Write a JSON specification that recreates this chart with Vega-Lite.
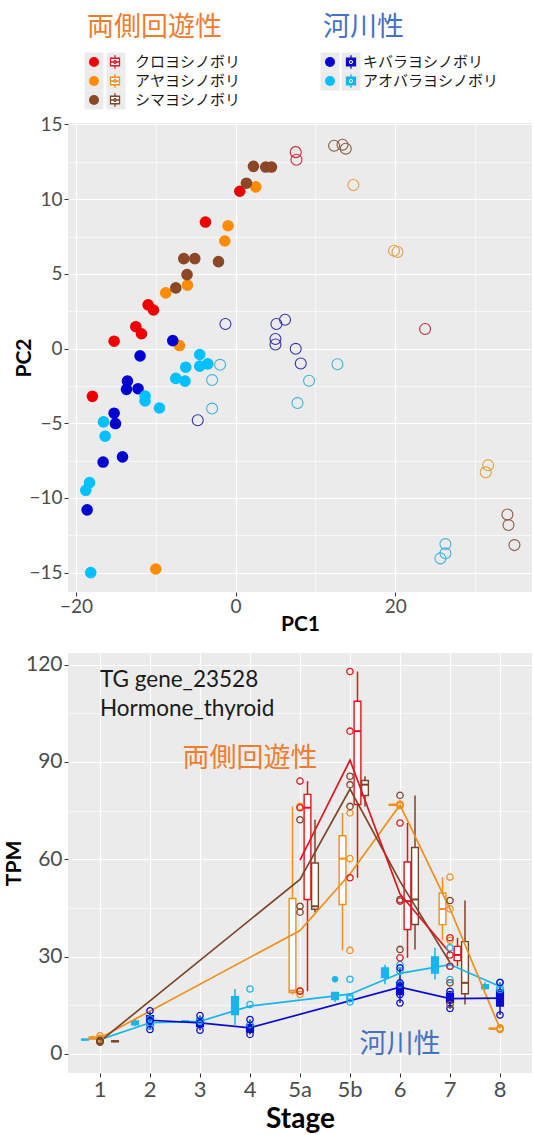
{
  "$schema": "https://vega.github.io/schema/vega-lite/v6.json",
  "padding": {"left": 3, "top": 0, "right": 0, "bottom": 0},
  "background": "white",
  "spacing": 61,
  "bounds": "flush",
  "config": {
    "font": "Lato",
    "view": {"stroke": null},
    "axis": {"labelFont": "Lato", "titleFont": "Lato", "labelColor": "#4d4d4d", "tickColor": "#333333", "tickWidth": 1, "domain": false, "gridColor": "white", "titleColor": "black", "titleFontWeight": "bold"}
  },
  "datasets": {
    "legend": [
      {"species": "クロヨシノボリ", "habit": "両側回遊性", "rank": 1},
      {"species": "アヤヨシノボリ", "habit": "両側回遊性", "rank": 2},
      {"species": "シマヨシノボリ", "habit": "両側回遊性", "rank": 3},
      {"species": "キバラヨシノボリ", "habit": "河川性", "rank": 1},
      {"species": "アオバラヨシノボリ", "habit": "河川性", "rank": 2}
    ],
    "titles": [
      {"habit": "両側回遊性", "rank": 1},
      {"habit": "河川性", "rank": 1}
    ],
    "pca": [
      {"species": "クロヨシノボリ", "type": "filled", "PC1": 0.53, "PC2": 10.53},
      {"species": "クロヨシノボリ", "type": "filled", "PC1": -3.77, "PC2": 8.47},
      {"species": "クロヨシノボリ", "type": "filled", "PC1": -10.96, "PC2": 2.93},
      {"species": "クロヨシノボリ", "type": "filled", "PC1": -10.29, "PC2": 2.58},
      {"species": "クロヨシノボリ", "type": "filled", "PC1": -12.5, "PC2": 1.46},
      {"species": "クロヨシノボリ", "type": "filled", "PC1": -11.79, "PC2": 0.99},
      {"species": "クロヨシノボリ", "type": "filled", "PC1": -15.22, "PC2": 0.49},
      {"species": "クロヨシノボリ", "type": "filled", "PC1": -17.94, "PC2": -3.2},
      {"species": "クロヨシノボリ", "type": "open", "PC1": 7.54, "PC2": 13.15},
      {"species": "クロヨシノボリ", "type": "open", "PC1": 7.63, "PC2": 12.64},
      {"species": "クロヨシノボリ", "type": "open", "PC1": 23.75, "PC2": 1.31},
      {"species": "アヤヨシノボリ", "type": "filled", "PC1": 2.53, "PC2": 10.82},
      {"species": "アヤヨシノボリ", "type": "filled", "PC1": -0.94, "PC2": 8.22},
      {"species": "アヤヨシノボリ", "type": "filled", "PC1": -1.35, "PC2": 7.2},
      {"species": "アヤヨシノボリ", "type": "filled", "PC1": -6.03, "PC2": 4.24},
      {"species": "アヤヨシノボリ", "type": "filled", "PC1": -8.75, "PC2": 3.73},
      {"species": "アヤヨシノボリ", "type": "filled", "PC1": -7.03, "PC2": 0.2},
      {"species": "アヤヨシノボリ", "type": "filled", "PC1": -10.0, "PC2": -14.76},
      {"species": "アヤヨシノボリ", "type": "open", "PC1": 14.77, "PC2": 10.95},
      {"species": "アヤヨシノボリ", "type": "open", "PC1": 19.86, "PC2": 6.55},
      {"species": "アヤヨシノボリ", "type": "open", "PC1": 20.29, "PC2": 6.46},
      {"species": "アヤヨシノボリ", "type": "open", "PC1": 31.65, "PC2": -7.82},
      {"species": "アヤヨシノボリ", "type": "open", "PC1": 31.35, "PC2": -8.29},
      {"species": "シマヨシノボリ", "type": "filled", "PC1": 2.24, "PC2": 12.2},
      {"species": "シマヨシノボリ", "type": "filled", "PC1": 3.78, "PC2": 12.15},
      {"species": "シマヨシノボリ", "type": "filled", "PC1": 4.5, "PC2": 12.15},
      {"species": "シマヨシノボリ", "type": "filled", "PC1": 1.36, "PC2": 11.07},
      {"species": "シマヨシノボリ", "type": "filled", "PC1": -6.49, "PC2": 6.02},
      {"species": "シマヨシノボリ", "type": "filled", "PC1": -5.11, "PC2": 6.02},
      {"species": "シマヨシノボリ", "type": "filled", "PC1": -2.14, "PC2": 5.82},
      {"species": "シマヨシノボリ", "type": "filled", "PC1": -6.08, "PC2": 4.95},
      {"species": "シマヨシノボリ", "type": "filled", "PC1": -7.49, "PC2": 4.06},
      {"species": "シマヨシノボリ", "type": "open", "PC1": 12.35, "PC2": 13.58},
      {"species": "シマヨシノボリ", "type": "open", "PC1": 13.4, "PC2": 13.65},
      {"species": "シマヨシノボリ", "type": "open", "PC1": 13.81, "PC2": 13.38},
      {"species": "シマヨシノボリ", "type": "open", "PC1": 34.07, "PC2": -11.11},
      {"species": "シマヨシノボリ", "type": "open", "PC1": 34.2, "PC2": -11.82},
      {"species": "シマヨシノボリ", "type": "open", "PC1": 34.95, "PC2": -13.16},
      {"species": "キバラヨシノボリ", "type": "filled", "PC1": -7.87, "PC2": 0.53},
      {"species": "キバラヨシノボリ", "type": "filled", "PC1": -11.97, "PC2": -0.49},
      {"species": "キバラヨシノボリ", "type": "filled", "PC1": -13.55, "PC2": -2.18},
      {"species": "キバラヨシノボリ", "type": "filled", "PC1": -13.67, "PC2": -2.73},
      {"species": "キバラヨシノボリ", "type": "filled", "PC1": -12.22, "PC2": -2.69},
      {"species": "キバラヨシノボリ", "type": "filled", "PC1": -15.22, "PC2": -4.33},
      {"species": "キバラヨシノボリ", "type": "filled", "PC1": -15.05, "PC2": -5.02},
      {"species": "キバラヨシノボリ", "type": "filled", "PC1": -16.6, "PC2": -7.6},
      {"species": "キバラヨシノボリ", "type": "filled", "PC1": -14.17, "PC2": -7.25},
      {"species": "キバラヨシノボリ", "type": "filled", "PC1": -18.6, "PC2": -10.8},
      {"species": "キバラヨシノボリ", "type": "open", "PC1": -1.27, "PC2": 1.64},
      {"species": "キバラヨシノボリ", "type": "open", "PC1": 6.2, "PC2": 1.93},
      {"species": "キバラヨシノボリ", "type": "open", "PC1": 5.12, "PC2": 1.64},
      {"species": "キバラヨシノボリ", "type": "open", "PC1": 5.0, "PC2": 0.64},
      {"species": "キバラヨシノボリ", "type": "open", "PC1": 5.0, "PC2": 0.27},
      {"species": "キバラヨシノボリ", "type": "open", "PC1": 7.54, "PC2": -0.02},
      {"species": "キバラヨシノボリ", "type": "open", "PC1": 8.17, "PC2": -1.0},
      {"species": "キバラヨシノボリ", "type": "open", "PC1": -4.74, "PC2": -4.8},
      {"species": "アオバラヨシノボリ", "type": "filled", "PC1": -4.49, "PC2": -0.4},
      {"species": "アオバラヨシノボリ", "type": "filled", "PC1": -4.49, "PC2": -1.18},
      {"species": "アオバラヨシノボリ", "type": "filled", "PC1": -3.48, "PC2": -1.03},
      {"species": "アオバラヨシノボリ", "type": "filled", "PC1": -6.24, "PC2": -1.25},
      {"species": "アオバラヨシノボリ", "type": "filled", "PC1": -7.49, "PC2": -2.0},
      {"species": "アオバラヨシノボリ", "type": "filled", "PC1": -6.33, "PC2": -2.18},
      {"species": "アオバラヨシノボリ", "type": "filled", "PC1": -11.34, "PC2": -3.18},
      {"species": "アオバラヨシノボリ", "type": "filled", "PC1": -11.34, "PC2": -3.51},
      {"species": "アオバラヨシノボリ", "type": "filled", "PC1": -9.54, "PC2": -3.98},
      {"species": "アオバラヨシノボリ", "type": "filled", "PC1": -16.55, "PC2": -4.91},
      {"species": "アオバラヨシノボリ", "type": "filled", "PC1": -16.35, "PC2": -5.87},
      {"species": "アオバラヨシノボリ", "type": "filled", "PC1": -18.3, "PC2": -8.98},
      {"species": "アオバラヨシノボリ", "type": "filled", "PC1": -18.77, "PC2": -9.49},
      {"species": "アオバラヨシノボリ", "type": "filled", "PC1": -18.15, "PC2": -15.0},
      {"species": "アオバラヨシノボリ", "type": "open", "PC1": -1.94, "PC2": -1.09},
      {"species": "アオバラヨシノボリ", "type": "open", "PC1": -2.94, "PC2": -2.11},
      {"species": "アオバラヨシノボリ", "type": "open", "PC1": -2.94, "PC2": -4.02},
      {"species": "アオバラヨシノボリ", "type": "open", "PC1": 12.77, "PC2": -1.05},
      {"species": "アオバラヨシノボリ", "type": "open", "PC1": 9.21, "PC2": -2.16},
      {"species": "アオバラヨシノボリ", "type": "open", "PC1": 7.76, "PC2": -3.65},
      {"species": "アオバラヨシノボリ", "type": "open", "PC1": 26.3, "PC2": -13.09},
      {"species": "アオバラヨシノボリ", "type": "open", "PC1": 26.3, "PC2": -13.71},
      {"species": "アオバラヨシノボリ", "type": "open", "PC1": 25.67, "PC2": -14.05}
    ],
    "tpm": [
      {"stage": "1", "species": "アオバラヨシノボリ", "TPM": 4.2},
      {"stage": "1", "species": "アオバラヨシノボリ", "TPM": 4.4},
      {"stage": "1", "species": "アオバラヨシノボリ", "TPM": 4.6},
      {"stage": "1", "species": "アヤヨシノボリ", "TPM": 4.3},
      {"stage": "1", "species": "アヤヨシノボリ", "TPM": 4.8},
      {"stage": "1", "species": "アヤヨシノボリ", "TPM": 5.6},
      {"stage": "1", "species": "シマヨシノボリ", "TPM": 3.6},
      {"stage": "1", "species": "シマヨシノボリ", "TPM": 3.9},
      {"stage": "1", "species": "シマヨシノボリ", "TPM": 4.1},
      {"stage": "2", "species": "アオバラヨシノボリ", "TPM": 8.5},
      {"stage": "2", "species": "アオバラヨシノボリ", "TPM": 9.5},
      {"stage": "2", "species": "アオバラヨシノボリ", "TPM": 10.8},
      {"stage": "2", "species": "キバラヨシノボリ", "TPM": 7.5},
      {"stage": "2", "species": "キバラヨシノボリ", "TPM": 10.3},
      {"stage": "2", "species": "キバラヨシノボリ", "TPM": 13.3},
      {"stage": "3", "species": "アオバラヨシノボリ", "TPM": 9.8},
      {"stage": "3", "species": "アオバラヨシノボリ", "TPM": 10.0},
      {"stage": "3", "species": "アオバラヨシノボリ", "TPM": 10.3},
      {"stage": "3", "species": "キバラヨシノボリ", "TPM": 7.3},
      {"stage": "3", "species": "キバラヨシノボリ", "TPM": 9.6},
      {"stage": "3", "species": "キバラヨシノボリ", "TPM": 11.8},
      {"stage": "4", "species": "アオバラヨシノボリ", "TPM": 9.0},
      {"stage": "4", "species": "アオバラヨシノボリ", "TPM": 15.2},
      {"stage": "4", "species": "アオバラヨシノボリ", "TPM": 20.0},
      {"stage": "4", "species": "キバラヨシノボリ", "TPM": 6.0},
      {"stage": "4", "species": "キバラヨシノボリ", "TPM": 7.5},
      {"stage": "4", "species": "キバラヨシノボリ", "TPM": 10.6},
      {"stage": "5a", "species": "アヤヨシノボリ", "TPM": 18.3},
      {"stage": "5a", "species": "アヤヨシノボリ", "TPM": 19.5},
      {"stage": "5a", "species": "アヤヨシノボリ", "TPM": 76.3},
      {"stage": "5a", "species": "クロヨシノボリ", "TPM": 19.3},
      {"stage": "5a", "species": "クロヨシノボリ", "TPM": 75.9},
      {"stage": "5a", "species": "クロヨシノボリ", "TPM": 84.1},
      {"stage": "5a", "species": "シマヨシノボリ", "TPM": 43.7},
      {"stage": "5a", "species": "シマヨシノボリ", "TPM": 45.5},
      {"stage": "5a", "species": "シマヨシノボリ", "TPM": 72.2},
      {"stage": "5b", "species": "アオバラヨシノボリ", "TPM": 16.0},
      {"stage": "5b", "species": "アオバラヨシノボリ", "TPM": 17.0},
      {"stage": "5b", "species": "アオバラヨシノボリ", "TPM": 17.6},
      {"stage": "5b", "species": "アオバラヨシノボリ", "TPM": 23.0},
      {"stage": "5b", "species": "アヤヨシノボリ", "TPM": 31.9},
      {"stage": "5b", "species": "アヤヨシノボリ", "TPM": 60.2},
      {"stage": "5b", "species": "アヤヨシノボリ", "TPM": 74.3},
      {"stage": "5b", "species": "クロヨシノボリ", "TPM": 54.3},
      {"stage": "5b", "species": "クロヨシノボリ", "TPM": 99.5},
      {"stage": "5b", "species": "クロヨシノボリ", "TPM": 117.9},
      {"stage": "5b", "species": "シマヨシノボリ", "TPM": 76.3},
      {"stage": "5b", "species": "シマヨシノボリ", "TPM": 83.0},
      {"stage": "5b", "species": "シマヨシノボリ", "TPM": 85.6},
      {"stage": "6", "species": "アオバラヨシノボリ", "TPM": 21.5},
      {"stage": "6", "species": "アオバラヨシノボリ", "TPM": 25.5},
      {"stage": "6", "species": "アオバラヨシノボリ", "TPM": 27.5},
      {"stage": "6", "species": "アヤヨシノボリ", "TPM": 76.5},
      {"stage": "6", "species": "アヤヨシノボリ", "TPM": 76.8},
      {"stage": "6", "species": "アヤヨシノボリ", "TPM": 77.0},
      {"stage": "6", "species": "キバラヨシノボリ", "TPM": 15.7},
      {"stage": "6", "species": "キバラヨシノボリ", "TPM": 18.3},
      {"stage": "6", "species": "キバラヨシノボリ", "TPM": 20.4},
      {"stage": "6", "species": "キバラヨシノボリ", "TPM": 21.9},
      {"stage": "6", "species": "キバラヨシノボリ", "TPM": 26.5},
      {"stage": "6", "species": "クロヨシノボリ", "TPM": 29.6},
      {"stage": "6", "species": "クロヨシノボリ", "TPM": 47.1},
      {"stage": "6", "species": "クロヨシノボリ", "TPM": 71.2},
      {"stage": "6", "species": "シマヨシノボリ", "TPM": 32.2},
      {"stage": "6", "species": "シマヨシノボリ", "TPM": 47.6},
      {"stage": "6", "species": "シマヨシノボリ", "TPM": 79.7},
      {"stage": "7", "species": "アオバラヨシノボリ", "TPM": 22.9},
      {"stage": "7", "species": "アオバラヨシノボリ", "TPM": 27.0},
      {"stage": "7", "species": "アオバラヨシノボリ", "TPM": 32.7},
      {"stage": "7", "species": "アヤヨシノボリ", "TPM": 35.0},
      {"stage": "7", "species": "アヤヨシノボリ", "TPM": 44.7},
      {"stage": "7", "species": "アヤヨシノボリ", "TPM": 54.5},
      {"stage": "7", "species": "キバラヨシノボリ", "TPM": 14.0},
      {"stage": "7", "species": "キバラヨシノボリ", "TPM": 16.5},
      {"stage": "7", "species": "キバラヨシノボリ", "TPM": 18.3},
      {"stage": "7", "species": "キバラヨシノボリ", "TPM": 19.3},
      {"stage": "7", "species": "クロヨシノボリ", "TPM": 27.0},
      {"stage": "7", "species": "クロヨシノボリ", "TPM": 30.5},
      {"stage": "7", "species": "クロヨシノボリ", "TPM": 35.8},
      {"stage": "7", "species": "シマヨシノボリ", "TPM": 15.2},
      {"stage": "7", "species": "シマヨシノボリ", "TPM": 21.9},
      {"stage": "7", "species": "シマヨシノボリ", "TPM": 47.3},
      {"stage": "8", "species": "アオバラヨシノボリ", "TPM": 19.8},
      {"stage": "8", "species": "アオバラヨシノボリ", "TPM": 20.5},
      {"stage": "8", "species": "アオバラヨシノボリ", "TPM": 22.1},
      {"stage": "8", "species": "アヤヨシノボリ", "TPM": 7.5},
      {"stage": "8", "species": "アヤヨシノボリ", "TPM": 7.8},
      {"stage": "8", "species": "アヤヨシノボリ", "TPM": 8.0},
      {"stage": "8", "species": "キバラヨシノボリ", "TPM": 12.0},
      {"stage": "8", "species": "キバラヨシノボリ", "TPM": 17.5},
      {"stage": "8", "species": "キバラヨシノボリ", "TPM": 22.0}
    ],
    "notes": [
      {"stage": "1", "TPM": 115.4, "label": "TG gene_23528", "kind": "gene"},
      {"stage": "1", "TPM": 106.2, "label": "Hormone_thyroid", "kind": "gene"},
      {"stage": "4", "TPM": 91.0, "label": "両側回遊性", "kind": "amph"},
      {"stage": "6", "TPM": 2.7, "label": "河川性", "kind": "river"}
    ]
  },
  "vconcat": [
    {
      "width": 464,
      "height": 62,
      "layer": [
        {
          "data": {"name": "legend"},
          "mark": {"type": "point", "shape": "square", "filled": true, "color": "#ebebeb", "size": 361, "opacity": 1},
          "encoding": {
            "x": {"field": "habit", "type": "nominal", "scale": {"type": "point", "domain": ["両側回遊性", "河川性"], "range": [26, 262], "padding": 0}, "axis": null},
            "y": {"field": "rank", "type": "quantitative", "scale": {"domain": [1, 3], "range": [62, 100], "nice": false, "zero": false}, "axis": null}
          }
        },
        {
          "data": {"name": "legend"},
          "mark": {"type": "point", "shape": "square", "filled": true, "color": "#ebebeb", "size": 361, "opacity": 1},
          "encoding": {
            "x": {"field": "habit", "type": "nominal", "scale": {"type": "point", "domain": ["両側回遊性", "河川性"], "range": [48, 283], "padding": 0}, "axis": null},
            "y": {"field": "rank", "type": "quantitative", "axis": null}
          }
        },
        {
          "data": {"name": "legend"},
          "mark": {"type": "point", "shape": "circle", "filled": true, "size": 100, "opacity": 1},
          "encoding": {
            "x": {"field": "habit", "type": "nominal", "scale": {"type": "point", "domain": ["両側回遊性", "河川性"], "range": [26, 262], "padding": 0}, "axis": null},
            "y": {"field": "rank", "type": "quantitative", "axis": null},
            "color": {"field": "species", "type": "nominal", "scale": {"domain": ["アオバラヨシノボリ", "アヤヨシノボリ", "キバラヨシノボリ", "クロヨシノボリ", "シマヨシノボリ"], "range": ["#00c0ff", "#ff8c00", "#0000d0", "#ee0000", "#8b4726"]}, "legend": null}
          }
        },
        {
          "data": {"name": "legend"},
          "mark": {"type": "point", "shape": "M-0.6,-0.5H0.6V0.5H-0.6Z M-0.6,0H0.6 M0,-0.5V-0.9 M0,0.5V0.9", "size": 225, "strokeWidth": 1.3, "opacity": 1},
          "encoding": {
            "x": {"field": "habit", "type": "nominal", "scale": {"type": "point", "domain": ["両側回遊性", "河川性"], "range": [47, 283], "padding": 0}, "axis": null},
            "y": {"field": "rank", "type": "quantitative", "axis": null},
            "stroke": {"field": "species", "type": "nominal", "scale": {"domain": ["アオバラヨシノボリ", "アヤヨシノボリ", "キバラヨシノボリ", "クロヨシノボリ", "シマヨシノボリ"], "range": ["#15b5ee", "#f0901a", "#0b0bd0", "#e0161e", "#7d4527"]}, "legend": null},
            "fill": {"field": "species", "type": "nominal", "scale": {"domain": ["アオバラヨシノボリ", "アヤヨシノボリ", "キバラヨシノボリ", "クロヨシノボリ", "シマヨシノボリ"], "range": ["#15b5ee", "white", "#0b0bd0", "white", "white"]}, "legend": null}
          }
        },
        {
          "data": {"name": "legend"},
          "mark": {"type": "point", "shape": "circle", "filled": false, "size": 10, "strokeWidth": 1, "opacity": 1},
          "encoding": {
            "x": {"field": "habit", "type": "nominal", "scale": {"type": "point", "domain": ["両側回遊性", "河川性"], "range": [47, 283], "padding": 0}, "axis": null},
            "y": {"field": "rank", "type": "quantitative", "axis": null},
            "color": {"field": "species", "type": "nominal", "scale": {"domain": ["アオバラヨシノボリ", "アヤヨシノボリ", "キバラヨシノボリ", "クロヨシノボリ", "シマヨシノボリ"], "range": ["#ffffff", "#f0901a", "#ffffff", "#e0161e", "#7d4527"]}, "legend": null}
          }
        },
        {
          "data": {"name": "legend"},
          "mark": {"type": "text", "align": "left", "baseline": "middle", "font": "Noto Sans CJK JP", "fontSize": 15, "color": "#1a1a1a"},
          "encoding": {
            "x": {"field": "habit", "type": "nominal", "scale": {"type": "point", "domain": ["両側回遊性", "河川性"], "range": [67, 295], "padding": 0}, "axis": null},
            "y": {"field": "rank", "type": "quantitative", "axis": null},
            "text": {"field": "species"}
          }
        },
        {
          "data": {"name": "titles"},
          "mark": {"type": "text", "align": "left", "baseline": "middle", "font": "Noto Sans CJK JP", "fontSize": 27, "dy": -34},
          "encoding": {
            "x": {"field": "habit", "type": "nominal", "scale": {"type": "point", "domain": ["両側回遊性", "河川性"], "range": [19, 255], "padding": 0}, "axis": null},
            "y": {"field": "rank", "type": "quantitative", "axis": null},
            "text": {"field": "habit"},
            "color": {"field": "habit", "type": "nominal", "scale": {"domain": ["両側回遊性", "河川性"], "range": ["#ED7D31", "#4472C4"]}, "legend": null}
          }
        }
      ],
      "resolve": {"scale": {"x": "independent", "color": "independent", "fill": "independent", "stroke": "independent"}}
    },
    {
      "width": 464,
      "height": 469,
      "view": {"fill": "#ebebeb", "stroke": null},
      "data": {"name": "pca"},
      "encoding": {
        "x": {"field": "PC1", "type": "quantitative", "scale": {"domain": [-21.0, 37.15], "nice": false, "zero": false},
          "axis": {"title": "PC1", "titleFontSize": 21, "titlePadding": -3, "labelFontSize": 19, "labelPadding": 1, "tickSize": 4,
            "values": [-20, -10, 0, 10, 20, 30],
            "labelExpr": "datum.value % 20 === 0 ? datum.label : ''",
            "gridWidth": {"condition": {"test": "datum.value % 20 !== 0", "value": 0.6}, "value": 1.2},
            "tickOpacity": {"condition": {"test": "datum.value % 20 !== 0", "value": 0}, "value": 1}}},
        "y": {"field": "PC2", "type": "quantitative", "scale": {"domain": [-16.3, 15.1], "nice": false, "zero": false},
          "axis": {"title": "PC2", "titleFontSize": 21, "titlePadding": -6, "labelFontSize": 19, "labelPadding": 2, "tickSize": 4,
            "values": [-15, -12.5, -10, -7.5, -5, -2.5, 0, 2.5, 5, 7.5, 10, 12.5, 15],
            "labelExpr": "datum.value % 5 === 0 ? datum.label : ''",
            "gridWidth": {"condition": {"test": "datum.value % 5 !== 0", "value": 0.6}, "value": 1.2},
            "tickOpacity": {"condition": {"test": "datum.value % 5 !== 0", "value": 0}, "value": 1}}}
      },
      "layer": [
        {
          "transform": [{"filter": "datum.type === 'filled'"}],
          "mark": {"type": "point", "shape": "circle", "filled": true, "size": 135, "opacity": 1},
          "encoding": {
            "color": {"field": "species", "type": "nominal", "scale": {"domain": ["アオバラヨシノボリ", "アヤヨシノボリ", "キバラヨシノボリ", "クロヨシノボリ", "シマヨシノボリ"], "range": ["#00c0ff", "#ff8c00", "#0000d0", "#ee0000", "#8b4726"]}, "legend": null}
          }
        },
        {
          "transform": [{"filter": "datum.type === 'open'"}],
          "mark": {"type": "point", "shape": "circle", "filled": false, "size": 120, "strokeWidth": 1.1, "opacity": 1},
          "encoding": {
            "color": {"field": "species", "type": "nominal", "scale": {"domain": ["アオバラヨシノボリ", "アヤヨシノボリ", "キバラヨシノボリ", "クロヨシノボリ", "シマヨシノボリ"], "range": ["#3fb3d8", "#e3a03c", "#3434a8", "#cc2a36", "#8a5a44"]}, "legend": null}
          }
        }
      ],
      "resolve": {"scale": {"color": "independent"}}
    },
    {
      "width": 464,
      "height": 420,
      "view": {"fill": "#ebebeb", "stroke": null},
      "encoding": {
        "x": {"field": "stage", "type": "nominal",
          "scale": {"type": "band", "domain": ["1", "2", "3", "4", "5a", "5b", "6", "7", "8"], "paddingInner": 0.25, "paddingOuter": 0.265},
          "axis": {"title": "Stage", "titleFontSize": 28, "titlePadding": 5, "labelFontSize": 22, "labelPadding": 2, "labelAngle": 0, "tickSize": 4, "grid": true, "gridWidth": 1.2, "bandPosition": 0.5}},
        "y": {"field": "TPM", "type": "quantitative", "scale": {"domain": [-5.9, 123.6], "nice": false, "zero": false},
          "axis": {"title": "TPM", "titleFontSize": 21, "titlePadding": 1, "labelFontSize": 21, "labelPadding": 2, "tickSize": 4,
            "values": [0, 15, 30, 45, 60, 75, 90, 105, 120],
            "labelExpr": "datum.value % 30 === 0 ? datum.label : ''",
            "gridWidth": {"condition": {"test": "datum.value % 30 !== 0", "value": 0.6}, "value": 1.2},
            "tickOpacity": {"condition": {"test": "datum.value % 30 !== 0", "value": 0}, "value": 1}}}
      },
      "layer": [
        {
          "data": {"name": "tpm"},
          "transform": [
            {"joinaggregate": [{"op": "q1", "field": "TPM", "as": "lo"}, {"op": "q3", "field": "TPM", "as": "hi"}], "groupby": ["stage", "species"]},
            {"filter": "datum.TPM >= datum.lo - 1.5 * (datum.hi - datum.lo) && datum.TPM <= datum.hi + 1.5 * (datum.hi - datum.lo)"}
          ],
          "mark": {"type": "rule", "strokeWidth": 1.5},
          "encoding": {
            "xOffset": {"field": "species", "type": "nominal", "scale": {"domain": ["アオバラヨシノボリ", "アヤヨシノボリ", "キバラヨシノボリ", "クロヨシノボリ", "シマヨシノボリ"], "paddingInner": 0.1, "paddingOuter": 0.05}},
            "y": {"aggregate": "min", "field": "TPM", "type": "quantitative"},
            "y2": {"aggregate": "max", "field": "TPM"},
            "color": {"field": "species", "type": "nominal", "scale": {"domain": ["アオバラヨシノボリ", "アヤヨシノボリ", "キバラヨシノボリ", "クロヨシノボリ", "シマヨシノボリ"], "range": ["#15b5ee", "#f0901a", "#0b0bd0", "#e0161e", "#7d4527"]}, "legend": null}
          }
        },
        {
          "data": {"name": "tpm"},
          "mark": {"type": "bar", "strokeWidth": 1.4},
          "encoding": {
            "xOffset": {"field": "species", "type": "nominal", "scale": {"domain": ["アオバラヨシノボリ", "アヤヨシノボリ", "キバラヨシノボリ", "クロヨシノボリ", "シマヨシノボリ"], "paddingInner": 0.1, "paddingOuter": 0.05}},
            "y": {"aggregate": "q1", "field": "TPM", "type": "quantitative"},
            "y2": {"aggregate": "q3", "field": "TPM"},
            "stroke": {"field": "species", "type": "nominal", "scale": {"domain": ["アオバラヨシノボリ", "アヤヨシノボリ", "キバラヨシノボリ", "クロヨシノボリ", "シマヨシノボリ"], "range": ["#15b5ee", "#f0901a", "#0b0bd0", "#e0161e", "#7d4527"]}, "legend": null},
            "fill": {"field": "species", "type": "nominal", "scale": {"domain": ["アオバラヨシノボリ", "アヤヨシノボリ", "キバラヨシノボリ", "クロヨシノボリ", "シマヨシノボリ"], "range": ["#15b5ee", "white", "#0b0bd0", "white", "white"]}, "legend": null}
          }
        },
        {
          "data": {"name": "tpm"},
          "mark": {"type": "tick", "thickness": 2, "size": 7},
          "encoding": {
            "xOffset": {"field": "species", "type": "nominal", "scale": {"domain": ["アオバラヨシノボリ", "アヤヨシノボリ", "キバラヨシノボリ", "クロヨシノボリ", "シマヨシノボリ"], "paddingInner": 0.1, "paddingOuter": 0.05}},
            "y": {"aggregate": "median", "field": "TPM", "type": "quantitative"},
            "color": {"field": "species", "type": "nominal", "legend": null}
          }
        },
        {
          "data": {"name": "tpm"},
          "transform": [
            {"joinaggregate": [{"op": "q1", "field": "TPM", "as": "lo"}, {"op": "q3", "field": "TPM", "as": "hi"}], "groupby": ["stage", "species"]},
            {"filter": "datum.TPM < datum.lo - 1.5 * (datum.hi - datum.lo) || datum.TPM > datum.hi + 1.5 * (datum.hi - datum.lo)"}
          ],
          "mark": {"type": "point", "shape": "circle", "filled": true, "size": 40, "opacity": 1},
          "encoding": {
            "xOffset": {"field": "species", "type": "nominal", "scale": {"domain": ["アオバラヨシノボリ", "アヤヨシノボリ", "キバラヨシノボリ", "クロヨシノボリ", "シマヨシノボリ"], "paddingInner": 0.1, "paddingOuter": 0.05}},
            "y": {"field": "TPM", "type": "quantitative"},
            "color": {"field": "species", "type": "nominal", "legend": null}
          }
        },
        {
          "data": {"name": "tpm"},
          "mark": {"type": "line", "strokeWidth": 1.7},
          "encoding": {
            "y": {"aggregate": "mean", "field": "TPM", "type": "quantitative"},
            "color": {"field": "species", "type": "nominal", "legend": null}
          }
        },
        {
          "data": {"name": "tpm"},
          "mark": {"type": "point", "shape": "circle", "filled": false, "size": 40, "strokeWidth": 1.3, "opacity": 1},
          "encoding": {
            "y": {"field": "TPM", "type": "quantitative"},
            "color": {"field": "species", "type": "nominal", "legend": null}
          }
        },
        {
          "data": {"name": "notes"},
          "transform": [{"filter": "datum.kind === 'gene'"}],
          "mark": {"type": "text", "align": "left", "baseline": "middle", "font": "Lato", "fontSize": 22.5, "color": "#1a1a1a"},
          "encoding": {
            "y": {"field": "TPM", "type": "quantitative"},
            "text": {"field": "label"}
          }
        },
        {
          "data": {"name": "notes"},
          "transform": [{"filter": "datum.kind === 'amph'"}],
          "mark": {"type": "text", "align": "center", "baseline": "middle", "font": "Noto Sans CJK JP", "fontSize": 27, "color": "#ED7D31"},
          "encoding": {
            "y": {"field": "TPM", "type": "quantitative"},
            "text": {"field": "label"}
          }
        },
        {
          "data": {"name": "notes"},
          "transform": [{"filter": "datum.kind === 'river'"}],
          "mark": {"type": "text", "align": "center", "baseline": "middle", "font": "Noto Sans CJK JP", "fontSize": 27, "color": "#4472C4"},
          "encoding": {
            "y": {"field": "TPM", "type": "quantitative"},
            "text": {"field": "label"}
          }
        }
      ]
    }
  ]
}
